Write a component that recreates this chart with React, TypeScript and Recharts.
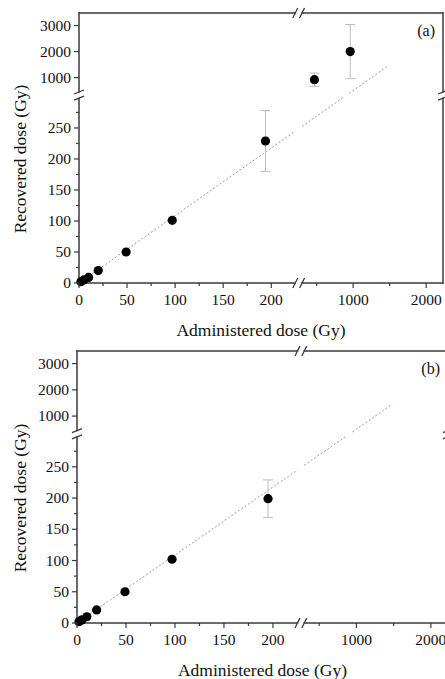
import React from 'react';
import { ComposedChart, Scatter, XAxis, YAxis, ErrorBar, ReferenceLine, ReferenceDot } from 'recharts';

const FONT = "'Liberation Serif', 'Times New Roman', serif";
const AXIS = '#3a3a3a';
const INK = '#111';

// panel (a): administered vs recovered dose (Gy)
const doseA = [2, 5, 10, 20, 49, 97, 194, 470, 960];
const recoveredA = [2, 5, 9, 20, 50, 101, 229, 920, 2000];
const errorA = [0, 0, 0, 0, 0, 0, 49, 255, 1040];

// panel (b)
const doseB = [2, 5, 10, 20, 49, 97, 195];
const recoveredB = [2, 5, 10, 21, 50, 102, 199];
const errorB = [0, 0, 0, 0, 0, 0, 30];

// dotted guide line, drawn straight across both breaks
const guideDose = [0, 1480];
const guideRecovered = [0, 1450];

const xMajorTicks = [0, 50, 100, 150, 200, 1000, 2000];
const xMinorTicks = [25, 75, 125, 175, 500, 1500];
const yMajorTicks = [0, 50, 100, 150, 200, 250, 1000, 2000, 3000];
const yMinorTicks = [25, 75, 125, 175, 225, 275];

// broken axes -> piecewise linear "display" units
const X_LOW_END = 225, X_HIGH_START = 300, X_GAP = 7, X_RATIO = 0.076, X_MAX = 2230;
const Y_LOW_END = 300, Y_HIGH_START = 400, Y_GAP = 6, Y_RATIO = 0.042, Y_MAX = 3480;

const fx = (v: number) => (v <= X_LOW_END ? v : X_LOW_END + X_GAP + (v - X_HIGH_START) * X_RATIO);
const fy = (v: number) => (v <= Y_LOW_END ? v : Y_LOW_END + Y_GAP + (v - Y_HIGH_START) * Y_RATIO);

const xMaxD = fx(X_MAX);
const yMaxD = fy(Y_MAX);
const xBreak = X_LOW_END + X_GAP / 2;
const yBreak = Y_LOW_END + Y_GAP / 2;
const xHalf = 3.5;
const yHalf = 5;

const xTicksAll = [...xMajorTicks, ...xMinorTicks].map(fx);
const yTicksAll = [...yMajorTicks, ...yMinorTicks].map(fy);
const xLabelAt = new Map(xMajorTicks.map((v) => [fx(v), String(v)]));
const yLabelAt = new Map(yMajorTicks.map((v) => [fy(v), String(v)]));

const toRows = (dose: number[], rec: number[], err: number[]) =>
  dose.map((d, i) => {
    const y = fy(rec[i]);
    return { x: fx(d), y, e: err[i], err: [y - fy(rec[i] - err[i]), fy(rec[i] + err[i]) - y] };
  });

// split the guide where it crosses the axis breaks
function guideSegments() {
  const x0 = fx(guideDose[0]), y0 = fy(guideRecovered[0]);
  const x1 = fx(guideDose[1]), y1 = fy(guideRecovered[1]);
  const gaps = [
    [(X_LOW_END - x0) / (x1 - x0), (X_LOW_END + X_GAP - x0) / (x1 - x0)],
    [(Y_LOW_END - y0) / (y1 - y0), (Y_LOW_END + Y_GAP - y0) / (y1 - y0)],
  ].sort((a, b) => a[0] - b[0]);
  const parts: number[][] = [];
  let t = 0;
  for (const [a, b] of gaps) {
    parts.push([t, a]);
    t = b;
  }
  parts.push([t, 1]);
  return parts.map(([a, b]) => [
    { x: x0 + (x1 - x0) * a, y: y0 + (y1 - y0) * a },
    { x: x0 + (x1 - x0) * b, y: y0 + (y1 - y0) * b },
  ]);
}

const frameSegments = [
  [{ x: 0, y: 0 }, { x: xBreak - xHalf, y: 0 }],
  [{ x: xBreak + xHalf, y: 0 }, { x: xMaxD, y: 0 }],
  [{ x: 0, y: yMaxD }, { x: xBreak - xHalf, y: yMaxD }],
  [{ x: xBreak + xHalf, y: yMaxD }, { x: xMaxD, y: yMaxD }],
  [{ x: 0, y: 0 }, { x: 0, y: yBreak - yHalf }],
  [{ x: 0, y: yBreak + yHalf }, { x: 0, y: yMaxD }],
  [{ x: xMaxD, y: 0 }, { x: xMaxD, y: yBreak - yHalf }],
  [{ x: xMaxD, y: yBreak + yHalf }, { x: xMaxD, y: yMaxD }],
];

const XTick = (props: any) => {
  const { x, y, payload } = props;
  const label = xLabelAt.get(payload.value);
  const major = label !== undefined;
  return (
    <g>
      <line x1={x} y1={y} x2={x} y2={y + (major ? 5 : 3)} stroke={AXIS} strokeWidth={1.2} />
      {major && (
        <text x={x} y={y + 21.5} textAnchor="middle" fontSize={15.5} fontFamily={FONT} fill={INK}>
          {label}
        </text>
      )}
    </g>
  );
};

const YTick = (props: any) => {
  const { x, y, payload } = props;
  const label = yLabelAt.get(payload.value);
  const major = label !== undefined;
  return (
    <g>
      <line x1={x - (major ? 5 : 3)} y1={y} x2={x} y2={y} stroke={AXIS} strokeWidth={1.2} />
      {major && (
        <text x={x - 8} y={y + 5} textAnchor="end" fontSize={15.5} fontFamily={FONT} fill={INK}>
          {label}
        </text>
      )}
    </g>
  );
};

// "//" on horizontal borders
const XBreakMark = (p: any) => (
  <g stroke={AXIS} strokeWidth={1.3}>
    <line x1={p.cx - 3.4 - 2.5} y1={p.cy + 5} x2={p.cx - 3.4 + 2.5} y2={p.cy - 5} />
    <line x1={p.cx + 3.4 - 2.5} y1={p.cy + 5} x2={p.cx + 3.4 + 2.5} y2={p.cy - 5} />
  </g>
);

// slanted "=" on vertical borders
const YBreakMark = (p: any) => (
  <g stroke={AXIS} strokeWidth={1.3}>
    <line x1={p.cx - 5} y1={p.cy - 3.1 + 2} x2={p.cx + 5} y2={p.cy - 3.1 - 2} />
    <line x1={p.cx - 5} y1={p.cy + 3.1 + 2} x2={p.cx + 5} y2={p.cy + 3.1 - 2} />
  </g>
);

const Dot = (p: any) => <circle cx={p.cx} cy={p.cy} r={4.6} fill="#000" />;

interface PanelProps {
  width: number;
  height: number;
  yAxisWidth: number;
  xAxisHeight: number;
  marginRight: number;
  tag: string;
  dose: number[];
  recovered: number[];
  error: number[];
}

function Panel({ width, height, yAxisWidth, xAxisHeight, marginRight, tag, dose, recovered, error }: PanelProps) {
  const rows = toRows(dose, recovered, error);
  const barRows = rows.filter((r) => r.e > 0);
  const guide = guideSegments();

  return (
    <ComposedChart width={width} height={height} margin={{ top: 13, right: marginRight, bottom: 0, left: 0 }}>
      <XAxis
        type="number"
        dataKey="x"
        domain={[0, xMaxD]}
        ticks={xTicksAll}
        interval={0}
        tick={XTick}
        tickLine={false}
        tickSize={0}
        tickMargin={0}
        axisLine={false}
        height={xAxisHeight}
        label={{ value: 'Administered dose (Gy)', position: 'center', dy: 18.5, fontSize: 17.5, fontFamily: FONT, fill: INK }}
      />
      <YAxis
        type="number"
        dataKey="y"
        domain={[0, yMaxD]}
        ticks={yTicksAll}
        interval={0}
        tick={YTick}
        tickLine={false}
        tickSize={0}
        tickMargin={0}
        axisLine={false}
        width={yAxisWidth}
        label={{ value: 'Recovered dose (Gy)', angle: -90, position: 'center', dx: 20 - yAxisWidth / 2, dy: 11, fontSize: 17.5, fontFamily: FONT, fill: INK }}
      />

      {guide.map((seg, i) => (
        <ReferenceLine key={'g' + i} segment={seg} stroke="#9a9a9a" strokeWidth={1} strokeDasharray="2 2" ifOverflow="visible" />
      ))}

      {frameSegments.map((seg, i) => (
        <ReferenceLine key={'f' + i} segment={seg} stroke={AXIS} strokeWidth={1.5} strokeLinecap="square" ifOverflow="visible" />
      ))}
      <ReferenceDot x={xBreak} y={0} ifOverflow="visible" shape={XBreakMark} />
      <ReferenceDot x={xBreak} y={yMaxD} ifOverflow="visible" shape={XBreakMark} />
      <ReferenceDot x={0} y={yBreak} ifOverflow="visible" shape={YBreakMark} />
      <ReferenceDot x={xMaxD} y={yBreak} ifOverflow="visible" shape={YBreakMark} />
      <ReferenceDot
        x={xMaxD}
        y={yMaxD}
        ifOverflow="visible"
        shape={(p: any) => (
          <text x={p.cx - 8} y={p.cy + 23} textAnchor="end" fontSize={16} fontFamily={FONT} fill={INK}>
            {tag}
          </text>
        )}
      />

      <Scatter data={barRows} shape={() => <g />} isAnimationActive={false}>
        <ErrorBar dataKey="err" direction="y" width={5} stroke="#bdbdbd" strokeWidth={1} isAnimationActive={false} />
      </Scatter>
      <Scatter data={rows} shape={Dot} isAnimationActive={false} />
    </ComposedChart>
  );
}

export default function App() {
  return (
    <div
      style={{
        position: 'absolute',
        left: 0,
        top: 0,
        width: 445,
        height: 679,
        overflow: 'hidden',
        background: '#fff',
        fontFamily: FONT,
      }}
    >
      <div style={{ position: 'absolute', left: 0, top: 0 }}>
        <Panel width={445} height={340} yAxisWidth={79} xAxisHeight={57} marginRight={2} tag="(a)" dose={doseA} recovered={recoveredA} error={errorA} />
      </div>
      <div style={{ position: 'absolute', left: 0, top: 338 }}>
        <Panel width={448} height={341} yAxisWidth={77} xAxisHeight={56} marginRight={0} tag="(b)" dose={doseB} recovered={recoveredB} error={errorB} />
      </div>
    </div>
  );
}
